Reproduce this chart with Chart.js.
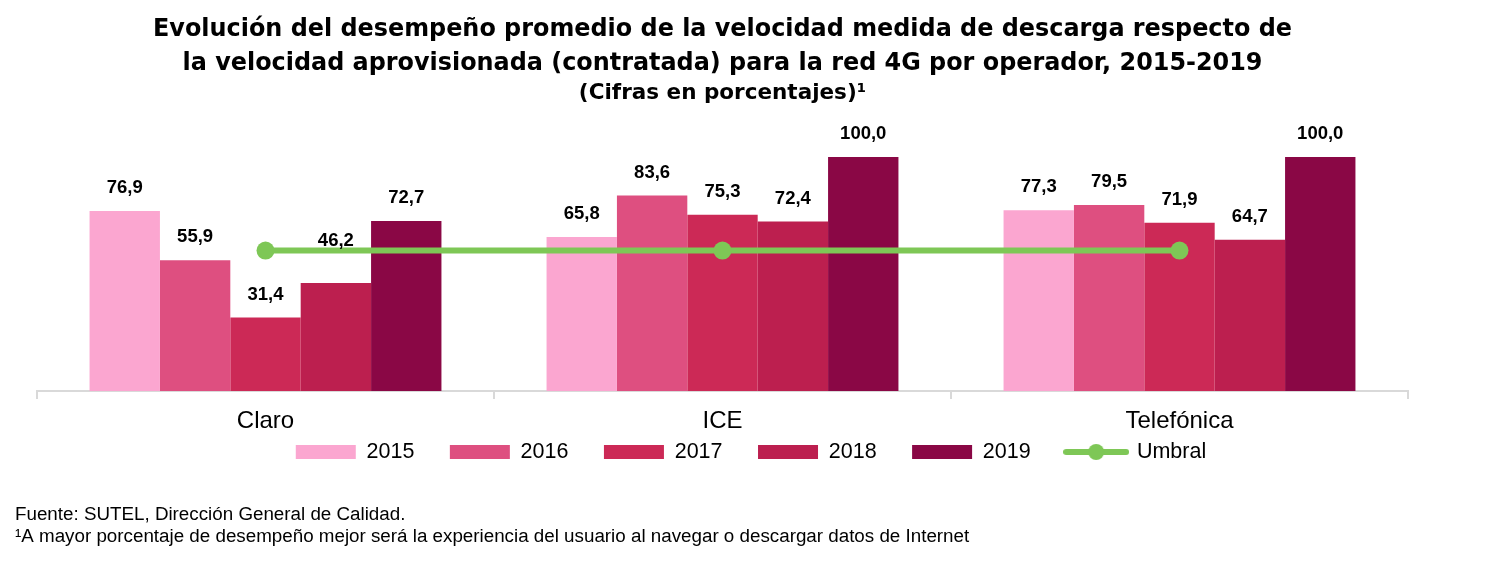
<!DOCTYPE html>
<html lang="es">
<head>
<meta charset="utf-8">
<title>Desempeño velocidad 4G por operador</title>
<script src="https://cdn.jsdelivr.net/npm/chart.js@4.4.1/dist/chart.umd.min.js"></script>
<style>
  html, body { margin: 0; padding: 0; background: #fff; }
  #wrap { width: 1493px; height: 565px; }
</style>
</head>
<body>
<div id="wrap"><canvas id="velChart" width="1493" height="565"></canvas></div>
<script>
const operadores = ["Claro", "ICE", "Telefónica"];
const anios = ["2015", "2016", "2017", "2018", "2019"];
const v2015 = [76.9, 65.8, 77.3];
const v2016 = [55.9, 83.6, 79.5];
const v2017 = [31.4, 75.3, 71.9];
const v2018 = [46.2, 72.4, 64.7];
const v2019 = [72.7, 100.0, 100.0];
const umbral = [60, 60, 60];

const series = [v2015, v2016, v2017, v2018, v2019];
const coloresAnio = ["#FBA6D0", "#DE4F80", "#CC2956", "#BC1F4F", "#8A0745"];
const verde = "#7EC756";
const fuente = "'Liberation Sans', Arial, sans-serif";
const fuenteTitulo = "'DejaVu Sans', 'Liberation Sans', sans-serif";

Chart.defaults.font.family = fuente;
Chart.defaults.color = "#000";

// icono de la leyenda para el umbral: linea con punto
const iconoUmbral = document.createElement("canvas");
iconoUmbral.width = 66;
iconoUmbral.height = 18;
const ic = iconoUmbral.getContext("2d");
ic.strokeStyle = verde;
ic.lineWidth = 6;
ic.lineCap = "round";
ic.beginPath();
ic.moveTo(3, 9);
ic.lineTo(63, 9);
ic.stroke();
ic.fillStyle = verde;
ic.beginPath();
ic.arc(33, 9, 8, 0, 2 * Math.PI);
ic.fill();

// valores sobre las barras
const etiquetas = {
    id: "etiquetas",
    afterDatasetsDraw(chart) {
        const ctx = chart.ctx;
        ctx.save();
        ctx.font = "bold 18.5px " + fuente;
        ctx.fillStyle = "#000";
        ctx.textAlign = "center";
        ctx.textBaseline = "middle";
        chart.data.datasets.forEach((ds, i) => {
            if (ds.type === "line") return;
            chart.getDatasetMeta(i).data.forEach((bar, j) => {
                let y = bar.y - 23;
                if (i === 3 && j === 0) y -= 19; // 46,2 va mas arriba para no tapar el umbral
                ctx.fillText(ds.data[j].toFixed(1).replace(".", ","), bar.x, y);
            });
        });
        ctx.restore();
    }
};

// fuente y nota al pie
const notas = {
    id: "notas",
    afterDraw(chart) {
        const ctx = chart.ctx;
        ctx.save();
        ctx.font = "18.8px " + fuente;
        ctx.fillStyle = "#000";
        ctx.textBaseline = "middle";
        ctx.fillText("Fuente: SUTEL, Dirección General de Calidad.", 15, 515);
        ctx.fillText("¹A mayor porcentaje de desempeño mejor será la experiencia del usuario al navegar o descargar datos de Internet", 15, 537);
        ctx.restore();
    }
};

// la leyenda queda pegada bajo los nombres de operador y algo corrida a la derecha
const moverLeyenda = {
    id: "moverLeyenda",
    afterLayout(chart) {
        const lg = chart.legend;
        const dy = lg.top - (chart.chartArea.bottom + 14.75);
        lg.top -= dy;
        lg.bottom -= dy;
        lg.left += 28.5;
        lg.right += 28.5;
    }
};

const ctx = document.getElementById("velChart").getContext("2d");

new Chart(ctx, {
    type: "bar",
    data: {
        labels: operadores,
        datasets: [
            ...anios.map((anio, k) => ({
                label: anio,
                data: series[k],
                backgroundColor: coloresAnio[k],
                borderWidth: 0,
                categoryPercentage: 0.77,
                barPercentage: 1,
                pointStyle: "rect",
                order: 1
            })),
            {
                type: "line",
                label: "Umbral",
                data: umbral,
                borderColor: verde,
                backgroundColor: verde,
                borderWidth: 6,
                pointRadius: 9,
                pointBackgroundColor: verde,
                pointBorderWidth: 0,
                order: 0
            }
        ]
    },
    options: {
        responsive: false,
        animation: false,
        events: [],
        layout: { padding: { left: 37, right: 85, bottom: 54.2 } },
        scales: {
            x: {
                grid: { offset: true, drawOnChartArea: false, tickLength: 8, color: "#d9d9d9", lineWidth: 2 },
                border: { color: "#d9d9d9", width: 2 },
                ticks: { color: "#000", font: { size: 24 }, padding: 8 }
            },
            y: { display: false, min: 0, max: 113.9 }
        },
        plugins: {
            title: {
                display: true,
                text: [
                    "Evolución del desempeño promedio de la velocidad medida de descarga respecto de",
                    "la velocidad aprovisionada (contratada) para la red 4G por operador, 2015-2019"
                ],
                color: "#000",
                font: { family: fuenteTitulo, size: 23.9, weight: "bold", lineHeight: 1.423 },
                padding: { top: 13, bottom: 2 }
            },
            subtitle: {
                display: true,
                text: "(Cifras en porcentajes)¹",
                color: "#000",
                font: { family: fuenteTitulo, size: 21.5, weight: "bold", lineHeight: 1.0 },
                padding: { top: 0, bottom: 20 }
            },
            legend: {
                position: "bottom",
                labels: {
                    color: "#000",
                    font: { size: 21.5 },
                    usePointStyle: true,
                    pointStyleWidth: 60,
                    boxWidth: 60,
                    boxHeight: 14,
                    padding: 35.5,
                    sort: (a, b) => a.datasetIndex - b.datasetIndex,
                    generateLabels(chart) {
                        const items = Chart.defaults.plugins.legend.labels.generateLabels(chart);
                        items.forEach(it => {
                            if (chart.data.datasets[it.datasetIndex].type === "line") it.pointStyle = iconoUmbral;
                        });
                        return items;
                    }
                }
            },
            tooltip: { enabled: false }
        }
    },
    plugins: [etiquetas, notas, moverLeyenda]
});
</script>
</body>
</html>
